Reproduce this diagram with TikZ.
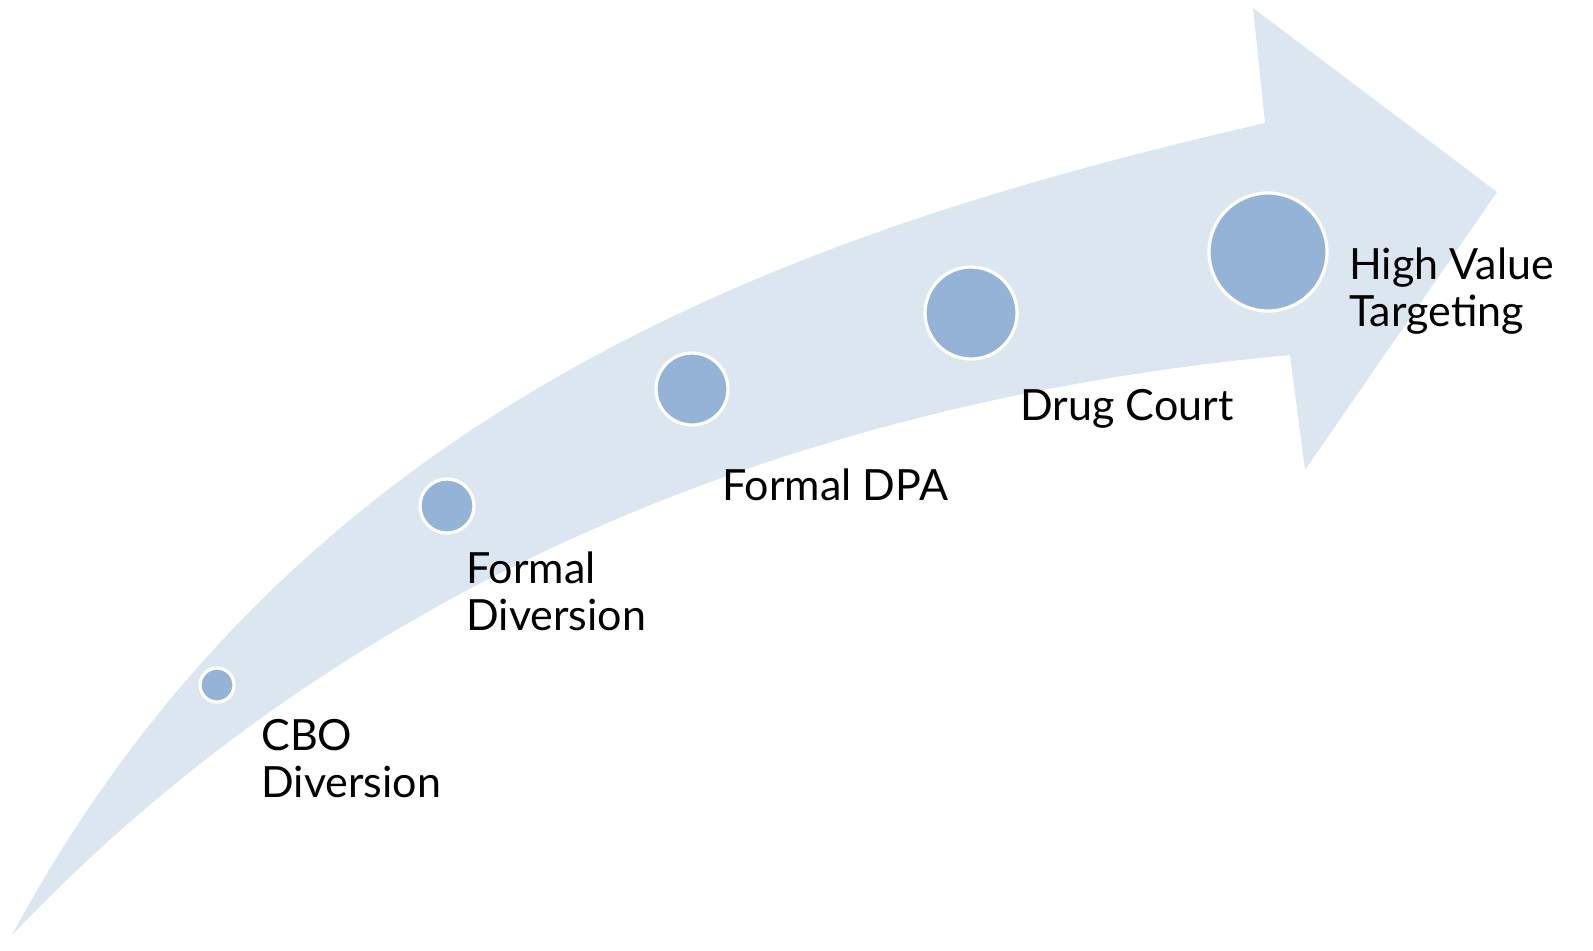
\documentclass[tikz,border=0pt]{standalone}
\usepackage{fontspec}
\setmainfont{Lato}
\usetikzlibrary{positioning}
\definecolor{bandblue}{HTML}{DCE6F1}
\definecolor{dotblue}{HTML}{95B3D7}

\begin{document}
\begin{tikzpicture}[x=0.5pt, y=-0.5pt,
    stage/.style={circle, fill=dotblue, draw=white, line width=1.6pt, inner sep=0pt},
    lbl/.style={anchor=base west, align=left, inner sep=0pt, font=\fontsize{21.5}{23.5}\selectfont}]

  \useasboundingbox (0,0) rectangle (1593,950);

  % ── Curved arrow (background band) ───────────────────────────
  \fill[bandblue] (12,935) .. controls (300,400) and (800,230) .. (1265,123)
    -- (1253,8) -- (1497,192) -- (1305,470) -- (1290,355)
    .. controls (800,400) and (350,580) .. (12,935) -- cycle;

  % ── Stages (growing circles) ─────────────────────────────────
  \node[stage, minimum size=17pt]  (cbo)  at (217,685)  {};
  \node[stage, minimum size=27pt]  (fdiv) at (447,506)  {};
  \node[stage, minimum size=36pt]  (fdpa) at (692,389)  {};
  \node[stage, minimum size=46pt]  (drug) at (971,313)  {};
  \node[stage, minimum size=59pt]  (hvt)  at (1268,252) {};

  % ── Labels (base = last line) ────────────────────────────────
  \node[lbl] (cbolbl)  at (261,797)  {CBO\\Diversion};
  \node[lbl] (fdivlbl) at (466,630)  {Formal\\Diversion};
  \node[lbl] (fdpalbl) at (722,500)  {Formal DPA};
  \node[lbl] (druglbl) at (1020,420) {Drug Court};
  \node[lbl] (hvtlbl)  at (1349,326) {High Value\\Targeting};

\end{tikzpicture}
\end{document}
